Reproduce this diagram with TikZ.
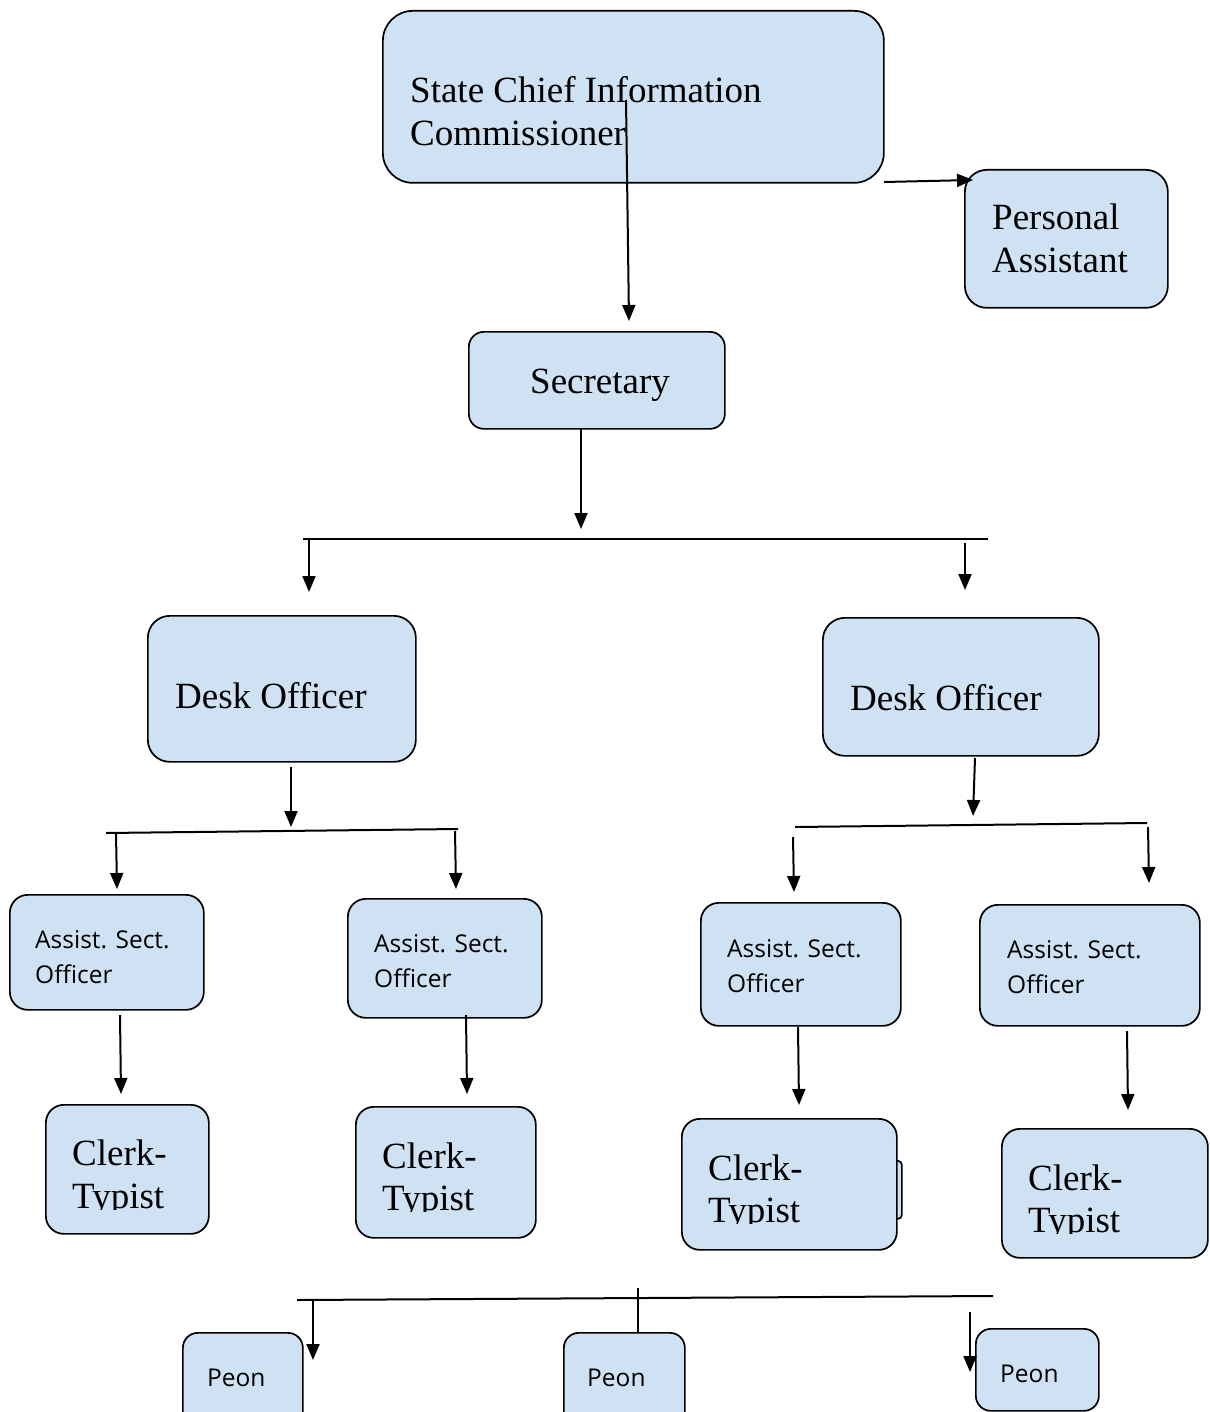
\documentclass[tikz,border=0pt]{standalone}
\usepackage{fontspec}
\setmainfont{Liberation Serif}
\newfontfamily\sansf{Open Sans}
\usetikzlibrary{arrows.meta}
\definecolor{boxfill}{RGB}{207,226,243}
\tikzset{
  box/.style={draw=black, line width=1.7pt, fill=boxfill, rounded corners=#1, inner sep=0pt, anchor=north west},
  box/.default=18pt,
  serif/.style={font=\fontsize{37}{44}\selectfont, inner sep=0pt, anchor=base west},
  sans/.style={font=\sansf\fontsize{24.5}{30}\selectfont, inner sep=0pt, anchor=base west},
  arr/.style={line width=2pt, -{Triangle[length=16pt,width=13pt]}},
  ln/.style={line width=2pt}
}
\begin{document}
\begin{tikzpicture}[x=1pt,y=-1pt]
\useasboundingbox (0,0) rectangle (1209,1412);
\clip (0,0) rectangle (1209,1412);
% boxes
\node[box=30pt, minimum width=501pt, minimum height=172pt] (scic) at (382,10) {};
\node[box=22pt, minimum width=203pt, minimum height=138pt] (pa) at (964,169) {};
\node[box=15pt, minimum width=256pt, minimum height=97pt] (sec) at (468,331) {};
\node[box=22pt, minimum width=268pt, minimum height=146pt] (do1) at (147,615) {};
\node[box=22pt, minimum width=276pt, minimum height=138pt] (do2) at (822,617) {};
\node[box, minimum width=194pt, minimum height=115pt] (aso1) at (9,894) {};
\node[box, minimum width=194pt, minimum height=119pt] (aso2) at (347,898) {};
\node[box, minimum width=200pt, minimum height=123pt] (aso3) at (700,902) {};
\node[box, minimum width=220pt, minimum height=121pt] (aso4) at (979,904) {};
\node[box, minimum width=163pt, minimum height=129pt] (ct1) at (45,1104) {};
\node[box, minimum width=180pt, minimum height=131pt] (ct2) at (355,1106) {};
\node[box=4pt, minimum width=14pt, minimum height=58pt] (ct3tab) at (887,1160) {};
\node[box, minimum width=215pt, minimum height=131pt] (ct3) at (681,1118) {};
\node[box, minimum width=206pt, minimum height=129pt] (ct4) at (1001,1128) {};
\node[box=15pt, minimum width=120pt, minimum height=100pt] (p1) at (182,1332) {};
\node[box=15pt, minimum width=121pt, minimum height=100pt] (p2) at (563,1332) {};
\node[box=15pt, minimum width=123pt, minimum height=82pt] (p3) at (975,1328) {};
% texts
\node[serif] (scic1) at (410,103) {State Chief Information};
\node[serif] (scic2) at (410,146) {Commissioner};
\node[serif] (pa1) at (992,230) {Personal};
\node[serif] (pa2) at (992,273) {Assistant};
\node[serif] (sect) at (530,393) {Secretary};
\node[serif] (do1t) at (175,708) {Desk Officer};
\node[serif] (do2t) at (850,710) {Desk Officer};
\node[sans] (aso1a) at (35,948) {Assist. Sect.};
\node[sans] (aso1b) at (35,983) {Officer};
\node[sans] (aso2a) at (374,952) {Assist. Sect.};
\node[sans] (aso2b) at (374,987) {Officer};
\node[sans] (aso3a) at (727,957) {Assist. Sect.};
\node[sans] (aso3b) at (727,992) {Officer};
\node[sans] (aso4a) at (1007,958) {Assist. Sect.};
\node[sans] (aso4b) at (1007,993) {Officer};
\node[serif] (ct1a) at (72,1165) {Clerk-};
\node[serif] (ct2a) at (382,1168) {Clerk-};
\node[serif] (ct3a) at (708,1180) {Clerk-};
\node[serif] (ct4a) at (1028,1190) {Clerk-};
\begin{scope}
\clip (60,1170) rectangle (200,1209);
\node[serif] (ct1b) at (72,1208) {Typist};
\end{scope}
\begin{scope}
\clip (370,1173) rectangle (520,1211);
\node[serif] (ct2b) at (382,1210) {Typist};
\end{scope}
\begin{scope}
\clip (695,1185) rectangle (880,1223);
\node[serif] (ct3b) at (708,1222) {Typist};
\end{scope}
\begin{scope}
\clip (1015,1195) rectangle (1190,1233);
\node[serif] (ct4b) at (1028,1232) {Typist};
\end{scope}
\node[sans] (p1t) at (207,1386) {Peon};
\node[sans] (p2t) at (587,1386) {Peon};
\node[sans] (p3t) at (1000,1382) {Peon};
% connector coordinates
\coordinate (c1a) at (626,100); \coordinate (c1b) at (629,321);
\coordinate (c2a) at (884,182); \coordinate (c2b) at (973,180);
\coordinate (c3a) at (581,428); \coordinate (c3b) at (581,529);
\coordinate (bus1l) at (303,539); \coordinate (bus1r) at (988,539);
\coordinate (c4a) at (309,539); \coordinate (c4b) at (309,592);
\coordinate (c5a) at (965,543); \coordinate (c5b) at (965,590);
\coordinate (c6a) at (291,767); \coordinate (c6b) at (291,827);
\coordinate (bus2l) at (106,833); \coordinate (bus2r) at (458,829);
\coordinate (c7a) at (116,833); \coordinate (c7b) at (117,889);
\coordinate (c8a) at (455,831); \coordinate (c8b) at (456,889);
\coordinate (c9a) at (975,758); \coordinate (c9b) at (973,816);
\coordinate (bus3l) at (795,827); \coordinate (bus3r) at (1147,823);
\coordinate (c10a) at (793,837); \coordinate (c10b) at (794,892);
\coordinate (c11a) at (1148,827); \coordinate (c11b) at (1149,883);
\coordinate (c12a) at (120,1015); \coordinate (c12b) at (121,1094);
\coordinate (c13a) at (466,1015); \coordinate (c13b) at (467,1094);
\coordinate (c14a) at (798,1027); \coordinate (c14b) at (799,1105);
\coordinate (c15a) at (1127,1031); \coordinate (c15b) at (1128,1110);
\coordinate (bus4l) at (297,1300); \coordinate (bus4r) at (993,1296);
\coordinate (c16a) at (313,1300); \coordinate (c16b) at (313,1360);
\coordinate (c17a) at (638,1288); \coordinate (c17b) at (638,1332);
\coordinate (c18a) at (970,1312); \coordinate (c18b) at (970,1372);
% connectors
\draw[arr] (c1a) -- (c1b);
\draw[arr] (c2a) -- (c2b);
\draw[arr] (c3a) -- (c3b);
\draw[ln] (bus1l) -- (bus1r);
\draw[arr] (c4a) -- (c4b);
\draw[arr] (c5a) -- (c5b);
\draw[arr] (c6a) -- (c6b);
\draw[ln] (bus2l) -- (bus2r);
\draw[arr] (c7a) -- (c7b);
\draw[arr] (c8a) -- (c8b);
\draw[arr] (c9a) -- (c9b);
\draw[ln] (bus3l) -- (bus3r);
\draw[arr] (c10a) -- (c10b);
\draw[arr] (c11a) -- (c11b);
\draw[arr] (c12a) -- (c12b);
\draw[arr] (c13a) -- (c13b);
\draw[arr] (c14a) -- (c14b);
\draw[arr] (c15a) -- (c15b);
\draw[ln] (bus4l) -- (bus4r);
\draw[arr] (c16a) -- (c16b);
\draw[ln] (c17a) -- (c17b);
\draw[arr] (c18a) -- (c18b);
\end{tikzpicture}
\end{document}
